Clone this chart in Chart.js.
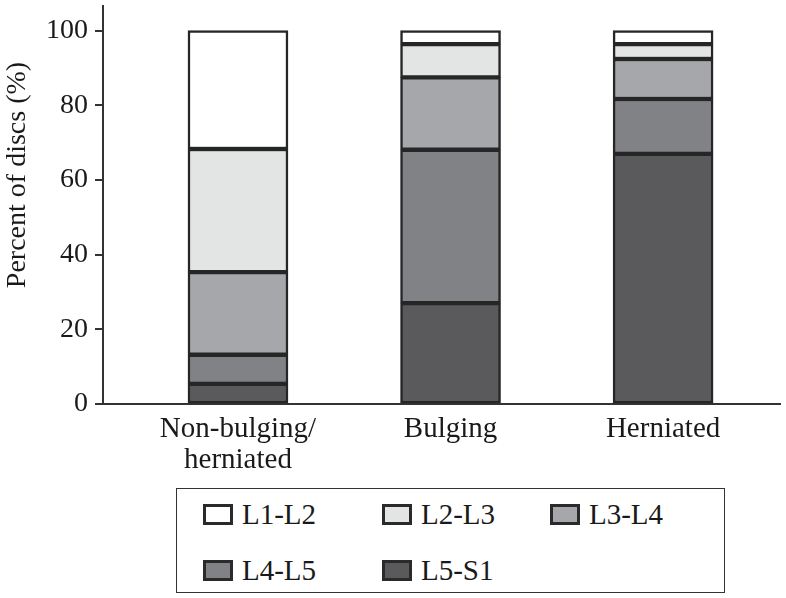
<!DOCTYPE html>
<html>
<head>
<meta charset="utf-8">
<script src="https://cdn.jsdelivr.net/npm/chart.js@4"></script>
<style>
  body { margin: 0; background: #fff; }
  #wrap { position: relative; width: 786px; height: 598px; }
  #legend {
    position: absolute; left: 176px; top: 488px; width: 549px; height: 105px;
    border: 1.5px solid #333; box-sizing: border-box;
    font-family: 'Liberation Serif', serif; font-size: 29px; color: #1a1a1a;
  }
  .item { position: absolute; display: flex; align-items: center; height: 30px; }
  .swatch { width: 30px; height: 21px; border: 3px solid #2a2a2a; box-sizing: border-box; margin-right: 9px; }
</style>
</head>
<body>
<div id="wrap">
  <canvas id="myChart" width="786" height="480"></canvas>
  <div id="legend"></div>
</div>
<script>
// data
const categories = [['Non-bulging/', 'herniated'], 'Bulging', 'Herniated'];
const seriesNames = ['L1-L2', 'L2-L3', 'L3-L4', 'L4-L5', 'L5-S1'];
const l1l2 = [31.7, 3.6, 3.6];
const l2l3 = [33.0, 8.9, 4.0];
const l3l4 = [22.1, 19.4, 10.7];
const l4l5 = [7.8, 41.1, 14.7];
const l5s1 = [5.4, 27.0, 67.0];
const yTicks = [0, 20, 40, 60, 80, 100];
const yTitle = 'Percent of discs (%)';

const fills = {
    'L1-L2': '#ffffff',
    'L2-L3': '#e3e4e4',
    'L3-L4': '#a6a7aa',
    'L4-L5': '#818285',
    'L5-S1': '#5a5a5c'
};
const values = { 'L1-L2': l1l2, 'L2-L3': l2l3, 'L3-L4': l3l4, 'L4-L5': l4l5, 'L5-S1': l5s1 };

const serif = 'Liberation Serif';

// bottom segment first
const datasets = seriesNames.slice().reverse().map(function(name) {
    return {
        label: name,
        data: values[name].map((v, i) => ({ x: i, y: v })),
        backgroundColor: fills[name],
        borderColor: '#262626',
        borderWidth: 2.5,
        borderSkipped: false,
        barThickness: 100
    };
});

// y title sits a bit above the middle of the axis in the original
const yTitlePlugin = {
    id: 'yTitle',
    afterDraw: function(chart) {
        const c = chart.ctx;
        c.save();
        c.translate(18, 175);
        c.rotate(-Math.PI / 2);
        c.fillStyle = '#1a1a1a';
        c.font = '28px "' + serif + '"';
        c.textAlign = 'center';
        c.textBaseline = 'middle';
        c.fillText(yTitle, 0, 0);
        c.restore();
    }
};

const ctx = document.getElementById('myChart');

new Chart(ctx, {
    type: 'bar',
    data: { datasets: datasets },
    plugins: [yTitlePlugin],
    options: {
        responsive: false,
        animation: false,
        layout: { padding: { top: 6, right: 6, left: 0, bottom: 0 } },
        plugins: {
            legend: { display: false },
            tooltip: { enabled: false }
        },
        scales: {
            x: {
                type: 'linear',
                stacked: true,
                offset: false,
                min: -0.635,
                max: 2.55,
                afterBuildTicks: function(scale) {
                    scale.ticks = categories.map((c, i) => ({ value: i }));
                },
                afterFit: function(scale) {
                    scale.height = 76;
                    scale.paddingLeft = 0;
                    scale.paddingRight = 0;
                },
                grid: { display: false, drawTicks: false, offset: false },
                border: { color: '#333', width: 2 },
                ticks: {
                    padding: 10,
                    maxRotation: 0,
                    autoSkip: false,
                    color: '#1a1a1a',
                    font: { family: serif, size: 29, lineHeight: 1.07 },
                    callback: function(val) {
                        return categories[val];
                    }
                }
            },
            y: {
                stacked: true,
                min: 0,
                max: 106.6,
                afterBuildTicks: function(scale) {
                    scale.ticks = yTicks.map(v => ({ value: v }));
                },
                afterFit: function(scale) {
                    scale.width = 103;
                    scale.paddingTop = 0;
                    scale.paddingBottom = 0;
                },
                grid: {
                    drawOnChartArea: false,
                    tickLength: 8,
                    color: '#333',
                    lineWidth: 2
                },
                border: { color: '#333', width: 2 },
                ticks: {
                    padding: 7,
                    color: '#1a1a1a',
                    font: { family: serif, size: 28 }
                }
            }
        }
    }
});

// legend box below the chart
const legend = document.getElementById('legend');
const colLeft = [26, 205, 373];
const rowTop = [10, 66];
seriesNames.forEach(function(name, i) {
    const item = document.createElement('div');
    item.className = 'item';
    item.style.left = colLeft[i % 3] + 'px';
    item.style.top = rowTop[Math.floor(i / 3)] + 'px';
    const sw = document.createElement('span');
    sw.className = 'swatch';
    sw.style.background = fills[name];
    const txt = document.createElement('span');
    txt.textContent = name;
    item.appendChild(sw);
    item.appendChild(txt);
    legend.appendChild(item);
});
</script>
</body>
</html>
